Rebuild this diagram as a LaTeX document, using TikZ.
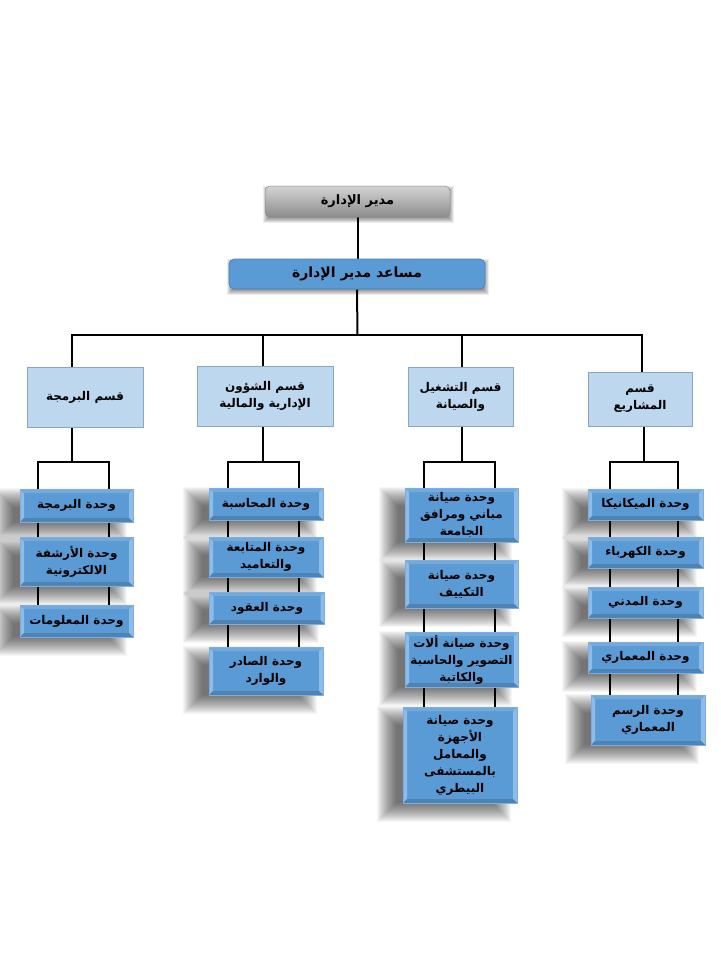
\documentclass[tikz,border=0pt]{standalone}
\usepackage{fontspec}
\TeXXeTstate=1
\newfontfamily\arabicfont[Script=Arabic]{DejaVu Sans}
\newcommand\rtl[1]{\beginR#1\endR}
\definecolor{unitblue}{HTML}{5B9BD5}
\definecolor{unitlight}{HTML}{8EBCE8}
\definecolor{unitedge}{HTML}{7FAEDC}
\definecolor{deptfill}{HTML}{BDD7EE}
\definecolor{deptedge}{HTML}{8AA6C6}
\definecolor{asstedge}{HTML}{4A7FB0}
\definecolor{graytop}{HTML}{D4D4D4}
\definecolor{graybot}{HTML}{8C8C8C}
\pgfdeclarelayer{bglayer}
\pgfdeclarelayer{shadowlayer}
\pgfdeclarelayer{linelayer}
\pgfsetlayers{bglayer,shadowlayer,linelayer,main}
% soft shadow: #1 node, #2 xshift, #3 yshift, #4 half spread (pt), #5 opacity per step
\newcommand\mkshadow[5]{%
  \foreach \k in {0,...,19}{%
    \pgfmathsetmacro\e{#4*(1-\k/10)}%
    \fill[black,opacity=#5] ([xshift={(#2)-(\e)*1pt}, yshift={(#3)-(\e)*1pt}]#1.south west)
       rectangle ([xshift={(#2)+(\e)*1pt}, yshift={(#3)+(\e)*1pt}]#1.north east);
  }}
\tikzset{
  txt/.style={font=\arabicfont\bfseries\fontsize{12}{17}\selectfont, text=black, align=center, inner sep=2pt},
  topbox/.style={txt, font=\arabicfont\bfseries\fontsize{13}{17}\selectfont, rounded corners=5pt, draw=graybot, line width=0.5pt,
    top color=graytop, bottom color=graybot},
  asstbox/.style={txt, font=\arabicfont\bfseries\fontsize{14}{17}\selectfont, rounded corners=5pt, draw=asstedge, line width=0.6pt, fill=unitblue},
  deptbox/.style={txt, draw=deptedge, line width=0.6pt, fill=deptfill},
  unitbox/.style={txt, draw=unitedge, line width=0.6pt, fill=unitblue,
    path picture={
      \fill[unitlight] (path picture bounding box.south west) -- (path picture bounding box.north west)
        -- ([xshift=4pt,yshift=-4pt]path picture bounding box.north west)
        -- ([xshift=4pt,yshift=4pt]path picture bounding box.south west) -- cycle;
      \fill[unitlight] (path picture bounding box.south east) -- (path picture bounding box.north east)
        -- ([xshift=-4pt,yshift=-4pt]path picture bounding box.north east)
        -- ([xshift=-4pt,yshift=4pt]path picture bounding box.south east) -- cycle;
      \fill[unitblue!85!white] (path picture bounding box.north west) -- (path picture bounding box.north east)
        -- ([xshift=-4pt,yshift=-4pt]path picture bounding box.north east)
        -- ([xshift=4pt,yshift=-4pt]path picture bounding box.north west) -- cycle;
      \fill[unitblue!85!black] (path picture bounding box.south west) -- (path picture bounding box.south east)
        -- ([xshift=-4pt,yshift=4pt]path picture bounding box.south east)
        -- ([xshift=4pt,yshift=4pt]path picture bounding box.south west) -- cycle;
    }},
  conn/.style={draw=black, line width=2pt}
}
\begin{document}
\begin{tikzpicture}[x=1pt,y=-1pt]
\begin{pgfonlayer}{bglayer}
\fill[white] (0,0) rectangle (720,960);
\end{pgfonlayer}
\useasboundingbox (0,0) rectangle (720,960);

% top levels
\node[topbox, minimum width=185pt, minimum height=31pt] (top) at (357.5,201.5) {\rtl{مدير الإدارة}};
\node[asstbox, minimum width=256pt, minimum height=30pt] (asst) at (357,274) {\rtl{مساعد مدير الإدارة}};

% departments
\node[deptbox, minimum width=116pt, minimum height=60pt] (d1) at (85,397) {\rtl{قسم البرمجة}};
\node[deptbox, minimum width=136pt, minimum height=60pt] (d2) at (265,396) {\rtl{قسم الشؤون}\\\rtl{الإدارية والمالية}};
\node[deptbox, minimum width=105pt, minimum height=59pt] (d3) at (460.5,396.5) {\rtl{قسم التشغيل}\\\rtl{والصيانة}};
\node[deptbox, minimum width=104pt, minimum height=54pt] (d4) at (640,399) {\rtl{قسم}\\\rtl{المشاريع}};

% column 1 units
\node[unitbox, minimum width=113pt, minimum height=33pt] (u11) at (76.5,505.5) {\rtl{وحدة البرمجة}};
\node[unitbox, minimum width=113pt, minimum height=49pt] (u12) at (76.5,561.5) {\rtl{وحدة الأرشفة}\\\rtl{الالكترونية}};
\node[unitbox, minimum width=113pt, minimum height=32pt] (u13) at (76.5,621) {\rtl{وحدة المعلومات}};

% column 2 units
\node[unitbox, minimum width=114pt, minimum height=32pt] (u21) at (266,504) {\rtl{وحدة المحاسبة}};
\node[unitbox, minimum width=114pt, minimum height=40pt] (u22) at (266,557) {\rtl{وحدة المتابعة}\\\rtl{والتعاميد}};
\node[unitbox, minimum width=115pt, minimum height=32pt] (u23) at (267,608) {\rtl{وحدة العقود}};
\node[unitbox, minimum width=114pt, minimum height=48pt] (u24) at (266,671) {\rtl{وحدة الصادر}\\\rtl{والوارد}};

% column 3 units
\node[unitbox, minimum width=113pt, minimum height=54pt] (u31) at (461.5,515) {\rtl{وحدة صيانة}\\\rtl{مباني ومرافق}\\\rtl{الجامعة}};
\node[unitbox, minimum width=113pt, minimum height=48pt] (u32) at (461.5,584) {\rtl{وحدة صيانة}\\\rtl{التكييف}};
\node[unitbox, minimum width=113pt, minimum height=55pt] (u33) at (461.5,659.5) {\rtl{وحدة صيانة ألات}\\\rtl{التصوير والحاسبة}\\\rtl{والكاتبة}};
\node[unitbox, minimum width=114pt, minimum height=96pt] (u34) at (460,755) {\rtl{وحدة صيانة}\\\rtl{الأجهزة}\\\rtl{والمعامل}\\\rtl{بالمستشفى}\\\rtl{البيطري}};

% column 4 units
\node[unitbox, minimum width=115pt, minimum height=31pt] (u41) at (645.5,504.5) {\rtl{وحدة الميكانيكا}};
\node[unitbox, minimum width=115pt, minimum height=31pt] (u42) at (645.5,552.5) {\rtl{وحدة الكهرباء}};
\node[unitbox, minimum width=115pt, minimum height=31pt] (u43) at (645.5,602.5) {\rtl{وحدة المدني}};
\node[unitbox, minimum width=115pt, minimum height=31pt] (u44) at (645.5,657.5) {\rtl{وحدة المعماري}};
\node[unitbox, minimum width=114pt, minimum height=50pt] (u45) at (648,720) {\rtl{وحدة الرسم}\\\rtl{المعماري}};

% shadows
\begin{pgfonlayer}{shadowlayer}
\mkshadow{top}{1pt}{-3pt}{3}{0.025}
\mkshadow{asst}{1pt}{-3pt}{3}{0.025}
\foreach \n in {u11,u12,u13,u21,u22,u23,u24,u31,u32,u33,u34,u41,u42,u43,u44,u45}{
  \mkshadow{\n}{-16pt}{-9pt}{10}{0.036}
}
\end{pgfonlayer}

% connector coordinates
\coordinate (bc) at (357.5,335);
\coordinate (b1) at (72,335);
\coordinate (b2) at (263,335);
\coordinate (b3) at (462,335);
\coordinate (b4) at (642,335);
\coordinate (k1) at (72,462);
\coordinate (k2) at (263,462);
\coordinate (k3) at (462,462);
\coordinate (k4) at (644,462);
\coordinate (r1a) at (38,462);  \coordinate (r1b) at (109,462);
\coordinate (r2a) at (228,462); \coordinate (r2b) at (299,462);
\coordinate (r3a) at (424,462); \coordinate (r3b) at (495,462);
\coordinate (r4a) at (610,462); \coordinate (r4b) at (678,462);

\begin{pgfonlayer}{linelayer}
\draw[conn] (top.south) -- (top.south |- asst.north);
\draw[conn] (asst.south) -- (bc);
\draw[conn, line cap=rect] (b1) -- (b4);
\draw[conn] (b1) -- (b1 |- d1.north);
\draw[conn] (b2) -- (b2 |- d2.north);
\draw[conn] (b3) -- (b3 |- d3.north);
\draw[conn] (b4) -- (b4 |- d4.north);
\draw[conn] (k1 |- d1.south) -- (k1);
\draw[conn] (k2 |- d2.south) -- (k2);
\draw[conn] (k3 |- d3.south) -- (k3);
\draw[conn] (k4 |- d4.south) -- (k4);
\draw[conn, line cap=rect] (r1a) -- (r1b);
\draw[conn, line cap=rect] (r2a) -- (r2b);
\draw[conn, line cap=rect] (r3a) -- (r3b);
\draw[conn, line cap=rect] (r4a) -- (r4b);
\draw[conn] (r1a) -- (r1a |- u13.north);
\draw[conn] (r1b) -- (r1b |- u13.north);
\draw[conn] (r2a) -- (r2a |- u24.north);
\draw[conn] (r2b) -- (r2b |- u24.north);
\draw[conn] (r3a) -- (r3a |- u34.north);
\draw[conn] (r3b) -- (r3b |- u34.north);
\draw[conn] (r4a) -- (r4a |- u45.north);
\draw[conn] (r4b) -- (r4b |- u45.north);
\end{pgfonlayer}
\end{tikzpicture}
\end{document}
